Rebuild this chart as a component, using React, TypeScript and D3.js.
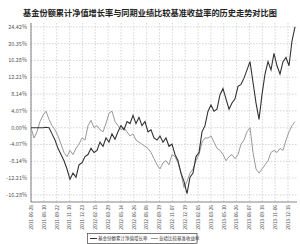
import React from "react";
import * as d3 from "d3";

const title = "基金份额累计净值增长率与同期业绩比较基准收益率的历史走势对比图";
const seriesNames = ["基金份额累计净值增长率", "业绩比较基准收益率"];
const yTicks = [24.42, 20.35, 16.28, 12.21, 8.14, 4.07, 0, -4.07, -8.14, -12.21, -16.28];
const xLabels = [
  "2011-06-28", "2011-08-10", "2011-09-22", "2011-11-10", "2011-12-23", "2012-02-15",
  "2012-03-29", "2012-05-14", "2012-06-26", "2012-08-08", "2012-09-19", "2012-11-07",
  "2012-12-19", "2013-02-05", "2013-03-26", "2013-05-10", "2013-06-26", "2013-08-07",
  "2013-09-18", "2013-11-06", "2013-12-18",
];
const fund = [
  0, 0, 0, 0, 0, 0.1, 0, -1.5, -3, -5, -6.5, -8, -10, -12.5, -11, -12, -9, -8.5, -7, -6.5,
  -5, -6, -5.5, -3.5, -4.5, -2.5, -3.5, -1.5, -2.8, -1, 0.5, -0.5, 1.5, 1, 3, 1, 2.5, 0.5,
  1.5, -1, -0.5, -2.5, -3, -2, -3.5, -2.5, -4.5, -4, -6.5, -8, -11, -13, -16, -12, -11, -7,
  -6, -1, 0.5, 4, 5.5, 4, 4.5, 8, 9.5, 7, 4.5, 6, 7, 10, 10.5, 12, 14, 16, 11, 6, 2, 8, 13,
  16, 14, 18, 15, 13, 16, 17, 15, 21, 24.4,
];
const bench = [
  0, -2.5, -1, 1.5, 3, 4, 2, 0.5, -0.5, -2, -4, -6, -7, -5.5, -6.5, -5, -4, -2.5, -3, 0.5,
  1.8, 0, 0.5, -0.5, -1, 1, 3.5, 4, 1.5, 0.5, -0.5, 0, -1, -2, -1.5, -3, -3.5, -4, -4.5, -5,
  -6, -7.5, -9, -10, -8.5, -8, -9, -6.5, -7, -8.5, -11, -14.5, -13, -11, -10, -8, -6.5, -3.5,
  -2.5, -2.5, -2, -3.5, -5, -5.5, -6.5, -8, -7, -6.5, -7.5, -6.5, -4, -3, -1, 0, -6, -10, -11,
  -10, -9, -8, -6, -5.5, -6, -5, -5.5, -3, -1, 0.5, 1.5,
];

const W = 300, H = 244;
const left = 31, right = 297, top = 23, bottom = 202;

export default function App() {
  const n = fund.length;
  const x = d3.scaleLinear().domain([0, n - 1]).range([left, 295]);
  const y = d3.scaleLinear().domain([-18, 25.36]).range([bottom, top]);
  const tickX = d3.scalePoint<string>().domain(xLabels).range([left, 288]);
  const line = d3.line<number>().x((_, i) => x(i)).y((d) => y(d));
  const font = "'Noto Sans CJK SC', 'DejaVu Sans', sans-serif";
  return (
    <svg width={W} height={H} style={{ position: "absolute", left: 0, top: 0, background: "#fff" }}>
      <text x={150} y={16} textAnchor="middle" fontSize={8.2} fontWeight="bold" fill="#222" fontFamily={font}>
        {title}
      </text>
      {yTicks.map((t) => (
        <g key={t}>
          <line x1={left} x2={right} y1={y(t)} y2={y(t)} stroke="#bbb" strokeWidth={0.6} strokeDasharray="1.5,1.5" />
          <text x={27} y={y(t) + 2} textAnchor="end" fontSize={5.5} fill="#555" fontFamily={font}>
            {t.toFixed(2) + "%"}
          </text>
        </g>
      ))}
      {xLabels.map((l) => (
        <g key={l}>
          <line x1={tickX(l)} x2={tickX(l)} y1={top} y2={bottom} stroke="#bbb" strokeWidth={0.6} strokeDasharray="1.5,1.5" />
          <text
            transform={`translate(${(tickX(l) as number) + 1.8},${bottom + 3}) rotate(-90)`}
            textAnchor="end"
            fontSize={4.8}
            fill="#555"
            fontFamily={font}
          >
            {l}
          </text>
        </g>
      ))}
      <line x1={left} x2={left} y1={top} y2={bottom} stroke="#666" strokeWidth={0.8} />
      <line x1={left} x2={right} y1={bottom} y2={bottom} stroke="#666" strokeWidth={0.8} />
      <path d={line(bench) || ""} fill="none" stroke="#999" strokeWidth={1} />
      <path d={line(fund) || ""} fill="none" stroke="#333" strokeWidth={1.1} />
      <g>
        <rect x={87.5} y={233.5} width={109.5} height={10} fill="#fff" stroke="#444" strokeWidth={0.7} />
        <line x1={90} x2={97} y1={238.5} y2={238.5} stroke="#333" strokeWidth={1} />
        <text x={98} y={240.3} fontSize={4.5} fill="#333" fontFamily={font}>{seriesNames[0]}</text>
        <line x1={151} x2={158} y1={238.5} y2={238.5} stroke="#999" strokeWidth={1} />
        <text x={159} y={240.3} fontSize={4.5} fill="#333" fontFamily={font}>{seriesNames[1]}</text>
      </g>
    </svg>
  );
}
